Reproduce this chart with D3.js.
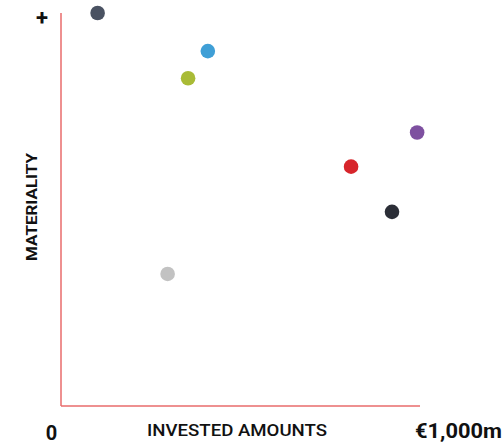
<!DOCTYPE html>
<html>
<head>
<meta charset="utf-8">
<script src="https://cdn.jsdelivr.net/npm/d3@7"></script>
<style>
  html, body { margin: 0; padding: 0; background: #fff; }
  svg { display: block; font-family: Roboto, "Noto Sans", sans-serif; }
</style>
</head>
<body>
<svg id="chart" width="503" height="446"></svg>
<script>
// Holdings: invested amount (€m) against materiality score (0–100)
const names       = ["A", "B", "C", "D", "E", "F", "G"];
const invested    = [102, 409, 354, 992, 808, 922, 297];
const materiality = [100, 90.3, 83.4, 69.6, 60.9, 49.4, 33.6];
const colors      = ["#4a5262", "#3f9fd6", "#a9bb36", "#7e50a0", "#d7252b", "#2b2e37", "#c2c2c2"];
const xLabels     = ["0", "€1,000m"];

const svg = d3.select("#chart");
const axisColor = "#e96b6b";

const x = d3.scaleLinear().domain([0, 1000]).range([61, 420]);
const y = d3.scaleLinear().domain([0, 100]).range([406, 13]);

// Axis lines (no ticks)
svg.append("line")
  .attr("x1", x(0)).attr("x2", x(0))
  .attr("y1", y(0)).attr("y2", y(100))
  .attr("stroke", axisColor).attr("stroke-width", 1.5);
svg.append("line")
  .attr("x1", x(0)).attr("x2", x(1000))
  .attr("y1", y(0)).attr("y2", y(0))
  .attr("stroke", axisColor).attr("stroke-width", 1.5);

// Points
svg.append("g").selectAll("circle")
  .data(names.map((n, i) => ({ n, xv: invested[i], yv: materiality[i], c: colors[i] })))
  .join("circle")
  .attr("cx", d => x(d.xv))
  .attr("cy", d => y(d.yv))
  .attr("r", 7.3)
  .attr("fill", d => d.c);

// Labels
svg.append("text")
  .attr("x", 42).attr("y", 25)
  .attr("text-anchor", "middle")
  .attr("font-size", 22).attr("font-weight", 700)
  .attr("fill", "#111")
  .text("+");

svg.append("text")
  .attr("transform", "translate(36.5,207) rotate(-90)")
  .attr("text-anchor", "middle")
  .attr("font-size", 15).attr("font-weight", 700)
  .attr("textLength", 108).attr("lengthAdjust", "spacingAndGlyphs")
  .attr("fill", "#111")
  .text("MATERIALITY");

svg.append("text")
  .attr("x", 237).attr("y", 436)
  .attr("text-anchor", "middle")
  .attr("font-size", 17).attr("font-weight", 500)
  .attr("textLength", 180).attr("lengthAdjust", "spacingAndGlyphs")
  .attr("fill", "#111")
  .text("INVESTED AMOUNTS");

svg.append("text")
  .attr("x", 51.5).attr("y", 440)
  .attr("text-anchor", "middle")
  .attr("font-size", 20).attr("font-weight", 700)
  .attr("fill", "#111")
  .text(xLabels[0]);

svg.append("text")
  .attr("x", 458.5).attr("y", 438)
  .attr("text-anchor", "middle")
  .attr("font-size", 20).attr("font-weight", 700)
  .attr("textLength", 87).attr("lengthAdjust", "spacingAndGlyphs")
  .attr("fill", "#111")
  .text(xLabels[1]);
</script>
</body>
</html>
